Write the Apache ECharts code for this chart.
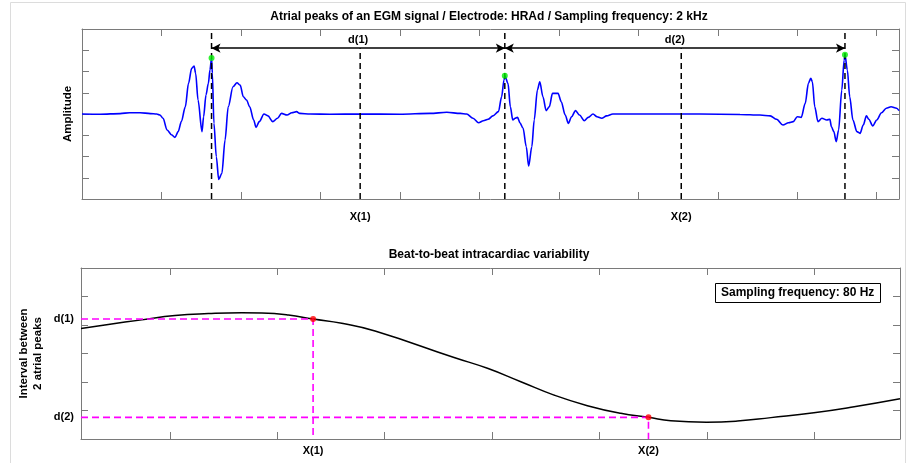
<!DOCTYPE html>
<html><head><meta charset="utf-8">
<script src="https://cdn.jsdelivr.net/npm/echarts@6/dist/echarts.min.js"></script>
<style>html,body{margin:0;padding:0;background:#fff}#c{width:908px;height:463px}</style>
</head><body><div id="c"></div>
<script>
// ---- Top panel: EGM signal (x in samples-ish units, y amplitude units) ----
const sigX = [0,23,48,60,73,86,94,98,102,107,113,117,121,125,130,134,138,141,143,146,151,153,156,159,161,163,164,166,169,172,176,180,184,190,195,199,203,207,211,216,219,223,229,234,240,246,251,258,264,270,274,287,312,350,400,438,459,476,484,492,499,505,511,517,524,528,531,532,536,539,542,545,548,551,555,559,562,566,569,573,576,580,584,588,592,599,603,608,612,616,621,626,632,637,643,648,654,660,668,677,715,777,828,853,866,874,882,889,895,900,905,910,914,917,919,922,926,931,937,941,943,946,949,952,956,959,960,963,966,970,975,979,983,987,990,995,1000,1006,1012,1018,1025,1028];
const sigY = [4.00,3.99,4.02,4.06,4.06,4.02,4.00,3.95,3.80,3.25,3.01,2.90,3.17,3.64,4.34,5.44,6.15,6.26,5.92,4.66,3.17,3.87,4.89,5.44,6.07,6.63,5.92,3.56,1.99,0.92,1.21,2.78,4.34,5.28,5.47,5.36,4.81,4.66,4.34,3.72,3.37,3.64,4.00,3.91,3.64,3.80,4.03,3.95,4.06,4.11,4.03,4.00,3.99,4.00,3.99,4.03,4.08,4.03,4.00,3.80,3.59,3.68,3.75,3.91,4.11,4.81,5.60,5.80,5.44,4.34,3.72,3.80,3.84,3.59,3.33,2.46,1.55,2.46,3.72,5.13,5.52,4.81,4.16,4.34,4.97,4.97,4.58,3.95,3.56,3.87,4.16,3.95,3.68,3.84,4.00,3.87,3.80,3.91,4.00,4.00,4.00,4.00,3.98,3.95,3.91,3.75,3.48,3.59,3.64,3.87,3.84,4.50,5.44,5.68,5.52,4.34,3.64,3.80,3.72,3.75,3.40,3.17,2.70,3.25,5.13,6.54,6.79,6.07,4.81,3.72,3.17,3.09,3.48,3.91,3.75,3.44,3.72,4.06,4.27,4.34,4.27,4.16];
const peakX = [163, 532, 960];
const peakY = [6.63, 5.80, 6.79];
const midX = [350, 754];
const midLabels = ['X(1)', 'X(2)'];
const distLabels = ['d(1)', 'd(2)'];
const arrowY = 7.1;
const topTicksX = [0,100,200,300,400,500,600,700,800,900,1000];
const topTicksY = [1,2,3,4,5,6,7];

// ---- Bottom panel: beat-to-beat variability ----
const varX = [0.171,0.425,0.737,1.047,1.357,1.668,1.855,2.103,2.333,2.600,2.910,3.646,3.957,4.268,4.578,4.888,5.199,5.457,5.665,5.997,6.286,6.597,6.998,7.373,7.800];
const varY = [3.88,4.02,4.18,4.33,4.40,4.43,4.42,4.35,4.21,4.06,3.79,2.86,2.48,2.01,1.54,1.17,0.90,0.76,0.64,0.59,0.63,0.75,0.92,1.13,1.41];
const ptX = [2.333, 5.457];
const ptY = [4.21, 0.76];
const botTicksX = [1,2,3,4,5,6,7];
const botTicksY = [1,2,3,4,5];
const botXMin = 0.171, botXMax = 7.8;

const FONT = "'Liberation Sans', Arial, sans-serif";
const AX = '#7a7a7a';
const lbl = {color:'#000', fontWeight:'bold', fontSize:11, fontFamily:FONT};
const nameLbl = {color:'#000', fontWeight:'bold', fontSize:11.5, fontFamily:FONT};

function nearest(arr, v){ let b=0; arr.forEach((a,i)=>{ if(Math.abs(a-v)<Math.abs(arr[b]-v)) b=i; }); return b; }

function axis(kind, grid, pos, min, max, ticks, lvals, ltexts, margin, extra){
  const a = {type:'value', gridIndex:grid, position:pos, min:min, max:max,
    splitLine:{show:false},
    axisLine:{show:true, onZero:false, lineStyle:{color:AX, width:1}},
    axisTick:{show:true, inside:true, length:7, customValues:ticks, lineStyle:{color:AX, width:1}},
    axisLabel: lvals ? Object.assign({show:true, customValues:lvals, margin:margin,
      formatter:(v)=>ltexts[nearest(lvals, v)]}, lbl) : {show:false}
  };
  return Object.assign(a, extra||{});
}

const chart = echarts.init(document.getElementById('c'), null, {renderer:'canvas'});
const series = [];
series.push({type:'line', xAxisIndex:0, yAxisIndex:0, data:sigX.map((x,i)=>[x,sigY[i]]),
  smooth:0.3, smoothMonotone:'x',
  showSymbol:false, lineStyle:{color:'#0000ff', width:1.6}, itemStyle:{color:'#0000ff'}, z:3, silent:true});
peakX.forEach((x)=>series.push({type:'line', xAxisIndex:0, yAxisIndex:0, data:[[x,0],[x,8]],
  showSymbol:false, lineStyle:{color:'#000', width:1.5, type:[6,4]}, z:4, silent:true}));
midX.forEach((x)=>series.push({type:'line', xAxisIndex:0, yAxisIndex:0, data:[[x,0],[x,arrowY]],
  showSymbol:false, lineStyle:{color:'#000', width:1.5, type:[6,4]}, z:4, silent:true}));
series.push({type:'scatter', xAxisIndex:0, yAxisIndex:0, data:peakX.map((x,i)=>[x,peakY[i]]),
  symbolSize:6, itemStyle:{color:'#00ee00'}, z:6, silent:true,
  markLine:{silent:true, symbol:['arrow','arrow'], symbolSize:[7,9], z:5,
    lineStyle:{color:'#000', width:1.5, type:'solid'},
    label:Object.assign({show:true, position:'middle', formatter:'{b}', distance:3}, lbl),
    data: peakX.slice(0,-1).map((x,i)=>[{coord:[x,arrowY], name:distLabels[i]},{coord:[peakX[i+1],arrowY]}])
  }});
// bottom
series.push({type:'line', xAxisIndex:2, yAxisIndex:2, data:varX.map((x,i)=>[x,varY[i]]),
  smooth:true, showSymbol:false, lineStyle:{color:'#000', width:1.5}, z:3, silent:true});
ptX.forEach((x,i)=>series.push({type:'line', xAxisIndex:2, yAxisIndex:2,
  data:[[botXMin,ptY[i]],[x,ptY[i]],[x,0]], showSymbol:false,
  lineStyle:{color:'#ff00ff', width:1.6, type:[7,4]}, z:4, silent:true}));
series.push({type:'scatter', xAxisIndex:2, yAxisIndex:2, data:ptX.map((x,i)=>[x,ptY[i]]),
  symbolSize:6, itemStyle:{color:'#ff0000'}, z:6, silent:true});

const titleStyle = {fontSize:12, fontWeight:'bold', color:'#000', fontFamily:FONT};
chart.setOption({
  animation:false,
  backgroundColor:'#fff',
  textStyle:{fontFamily:FONT},
  title:[
    {text:'Atrial peaks of an EGM signal / Electrode: HRAd / Sampling frequency: 2 kHz', left:489, top:11, textAlign:'center',
      textStyle:titleStyle, padding:0},
    {text:'Beat-to-beat intracardiac variability', left:489, top:249, textAlign:'center',
      textStyle:titleStyle, padding:0},
    {text:'Sampling frequency: 80 Hz', left:715, top:283, borderColor:'#000', borderWidth:1, padding:[3,6,3,6],
      backgroundColor:'#fff', textStyle:Object.assign({lineHeight:14}, titleStyle)}
  ],
  grid:[
    {left:82, top:29, width:817, height:170},
    {left:81, top:268, width:819, height:171}
  ],
  xAxis:[
    axis('x',0,'bottom',0,1028,topTicksX,midX,midLabels,12),
    axis('x',0,'top',0,1028,topTicksX,null,null,0),
    axis('x',1,'bottom',botXMin,botXMax,botTicksX,ptX,midLabels,6),
    axis('x',1,'top',botXMin,botXMax,botTicksX,null,null,0)
  ],
  yAxis:[
    axis('y',0,'left',0,8,topTicksY,null,null,0,{name:'Amplitude', nameLocation:'middle', nameGap:8, nameMoveOverlap:false,
      nameTextStyle:Object.assign({}, nameLbl)}),
    axis('y',0,'right',0,8,topTicksY,null,null,0),
    axis('y',1,'left',0,6,botTicksY,ptY,distLabels,7,{name:'Interval between\n2 atrial peaks', nameLocation:'middle', nameGap:36, nameMoveOverlap:false,
      nameTextStyle:Object.assign({lineHeight:14}, nameLbl)}),
    axis('y',1,'right',0,6,botTicksY,null,null,0)
  ],
  graphic:[{type:'rect', shape:{x:10.5, y:2.5, width:895, height:470}, style:{fill:'none', stroke:'#dcdcdc', lineWidth:1}, silent:true, z:-1}],
  series:series
});
</script></body></html>
